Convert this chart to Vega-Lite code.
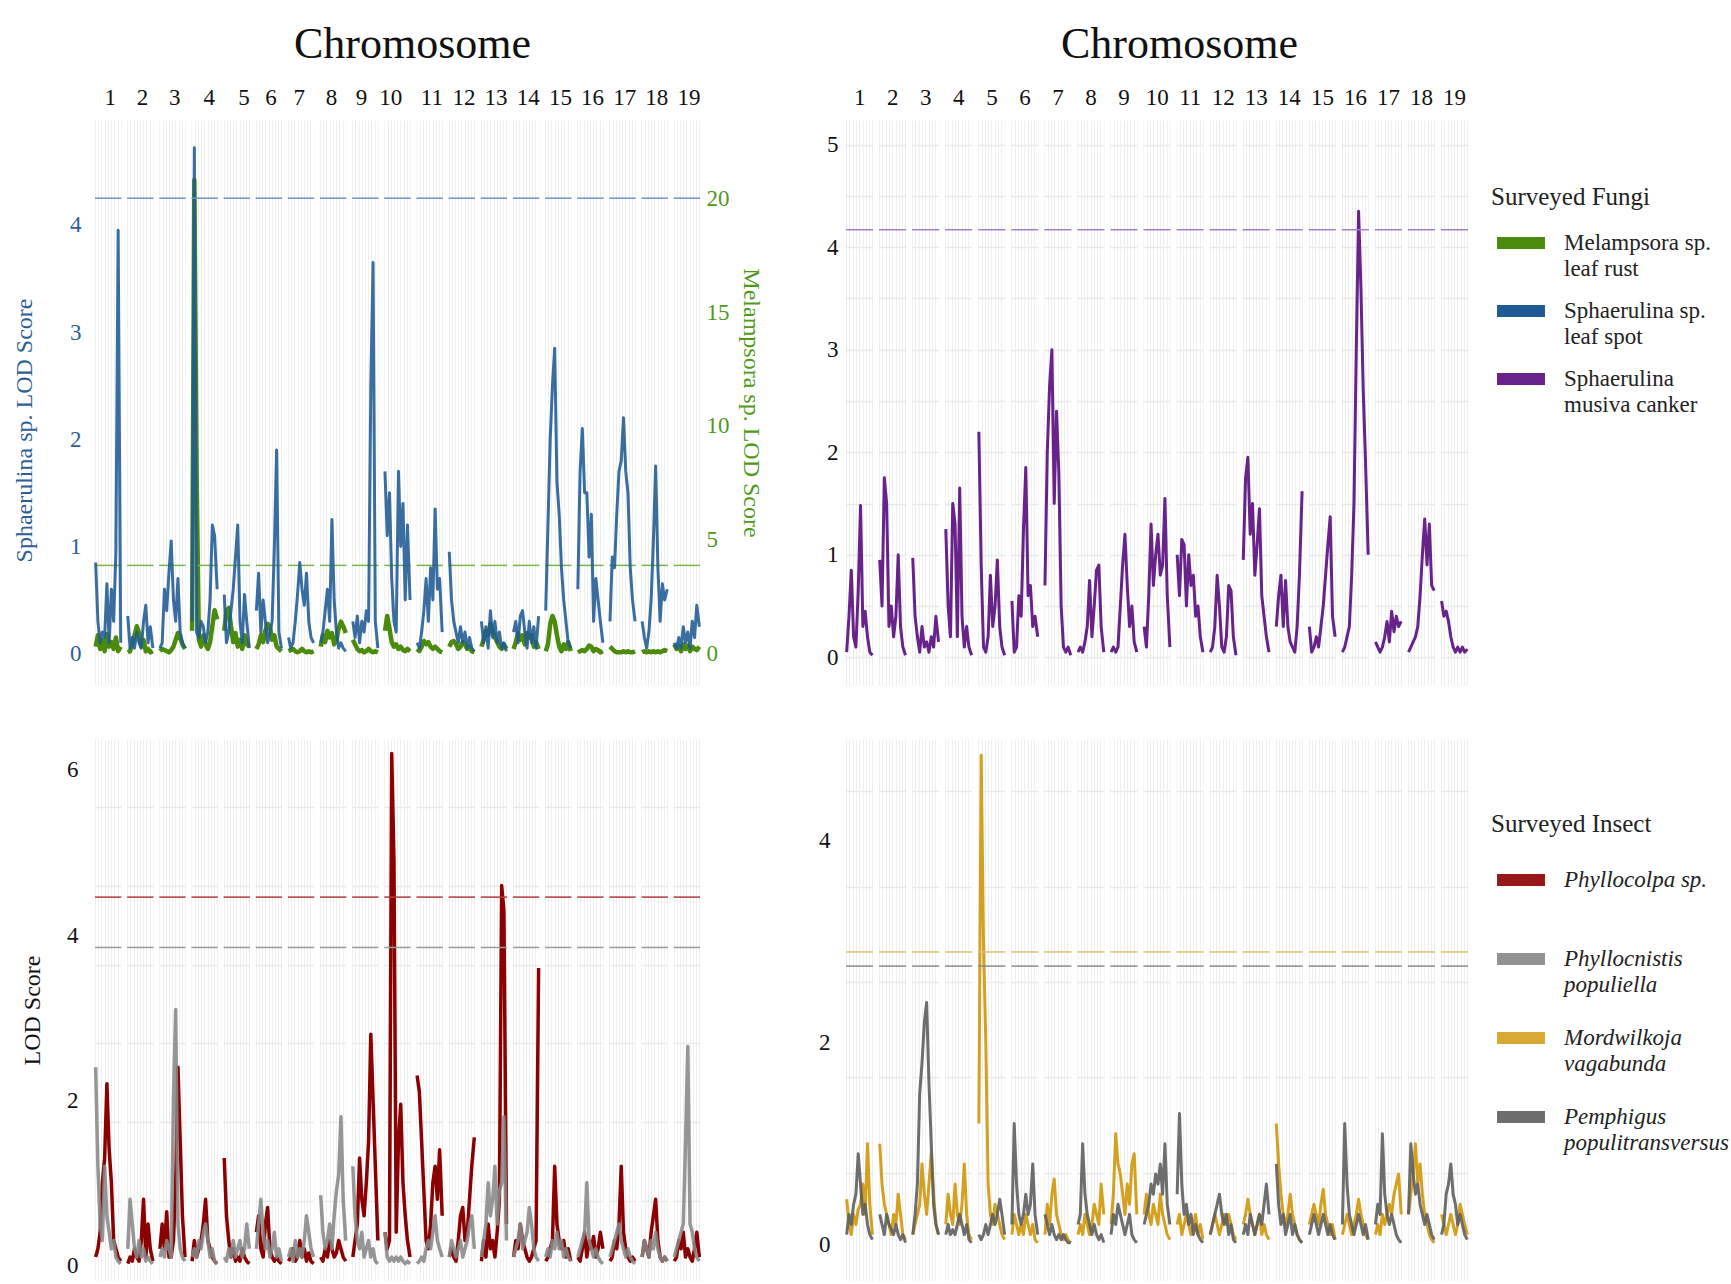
{
"$schema": "https://vega.github.io/schema/vega-lite/v6.json",
"background": "white",
"padding": {"left": 12, "top": 22, "right": 0, "bottom": 0},
"bounds": "flush",
"columns": 2,
"spacing": {"row": 54, "column": 146},
"resolve": {"scale": {"x": "independent", "y": "independent", "color": "independent"}, "legend": {"color": "independent"}},
"datasets": {
"chroms": [
{"c":1,"b":0,"e":0.82,"n":1,"xs":[0.02,0.09,0.16,0.23,0.3,0.37,0.44,0.51,0.58,0.65,0.72,0.8]},
{"c":2,"b":1,"e":1.82,"n":2,"xs":[1.02,1.09,1.16,1.23,1.3,1.37,1.44,1.51,1.58,1.65,1.72,1.8]},
{"c":3,"b":2,"e":2.82,"n":3,"xs":[2.02,2.09,2.16,2.23,2.3,2.37,2.44,2.51,2.58,2.65,2.72,2.8]},
{"c":4,"b":3,"e":3.82,"n":4,"xs":[3.02,3.09,3.16,3.23,3.3,3.37,3.44,3.51,3.58,3.65,3.72,3.8]},
{"c":5,"b":4,"e":4.82,"n":5,"xs":[4.02,4.09,4.16,4.23,4.3,4.37,4.44,4.51,4.58,4.65,4.72,4.8]},
{"c":6,"b":5,"e":5.82,"n":6,"xs":[5.02,5.09,5.16,5.23,5.3,5.37,5.44,5.51,5.58,5.65,5.72,5.8]},
{"c":7,"b":6,"e":6.82,"n":7,"xs":[6.02,6.09,6.16,6.23,6.3,6.37,6.44,6.51,6.58,6.65,6.72,6.8]},
{"c":8,"b":7,"e":7.82,"n":8,"xs":[7.02,7.09,7.16,7.23,7.3,7.37,7.44,7.51,7.58,7.65,7.72,7.8]},
{"c":9,"b":8,"e":8.82,"n":9,"xs":[8.02,8.09,8.16,8.23,8.3,8.37,8.44,8.51,8.58,8.65,8.72,8.8]},
{"c":10,"b":9,"e":9.82,"n":10,"xs":[9.02,9.09,9.16,9.23,9.3,9.37,9.44,9.51,9.58,9.65,9.72,9.8]},
{"c":11,"b":10,"e":10.82,"n":11,"xs":[10.02,10.09,10.16,10.23,10.3,10.37,10.44,10.51,10.58,10.65,10.72,10.8]},
{"c":12,"b":11,"e":11.82,"n":12,"xs":[11.02,11.09,11.16,11.23,11.3,11.37,11.44,11.51,11.58,11.65,11.72,11.8]},
{"c":13,"b":12,"e":12.82,"n":13,"xs":[12.02,12.09,12.16,12.23,12.3,12.37,12.44,12.51,12.58,12.65,12.72,12.8]},
{"c":14,"b":13,"e":13.82,"n":14,"xs":[13.02,13.09,13.16,13.23,13.3,13.37,13.44,13.51,13.58,13.65,13.72,13.8]},
{"c":15,"b":14,"e":14.82,"n":15,"xs":[14.02,14.09,14.16,14.23,14.3,14.37,14.44,14.51,14.58,14.65,14.72,14.8]},
{"c":16,"b":15,"e":15.82,"n":16,"xs":[15.02,15.09,15.16,15.23,15.3,15.37,15.44,15.51,15.58,15.65,15.72,15.8]},
{"c":17,"b":16,"e":16.82,"n":17,"xs":[16.02,16.09,16.16,16.23,16.3,16.37,16.44,16.51,16.58,16.65,16.72,16.8]},
{"c":18,"b":17,"e":17.82,"n":18,"xs":[17.02,17.09,17.16,17.23,17.3,17.37,17.44,17.51,17.58,17.65,17.72,17.8]},
{"c":19,"b":18,"e":18.82,"n":19,"xs":[18.02,18.09,18.16,18.23,18.3,18.37,18.44,18.51,18.58,18.65,18.72,18.8]}
],
"lod": [
{"s":"sph","c":1,"y":[0.85,0.3,0.1,0.2,0.15,0.65,0.1,0.6,0.3,0.95,3.95,0.1]},
{"s":"sph","c":2,"y":[0.35,0.05,0.15,0.05,0.2,0.1,0.05,0.3,0.45,0.1,0.25,0.05]},
{"s":"sph","c":3,"y":[0.05,0.1,0.6,0.4,0.75,1.05,0.5,0.3,0.7,0.2,0.1,0.05]},
{"s":"sph","c":4,"y":[0.3,4.72,0.2,0.15,0.3,0.25,0.1,0.2,0.5,1.2,1.1,0.6]},
{"s":"sph","c":5,"y":[0.55,0.1,0.2,0.4,0.6,0.9,1.2,0.3,0.1,0.55,0.3,0.05]},
{"s":"sph","c":6,"y":[0.4,0.75,0.2,0.5,0.3,0.1,0.2,0.3,1.0,1.9,0.2,0.05]},
{"s":"sph","c":7,"y":[0.15,0.05,0.1,0.3,0.55,0.85,0.6,0.45,0.75,0.3,0.15,0.1]},
{"s":"sph","c":8,"y":[0.1,0.2,0.4,0.6,0.3,1.25,0.5,0.2,0.05,0.1,0.05,0.02]},
{"s":"sph","c":9,"y":[0.3,0.15,0.35,0.1,0.3,0.2,0.4,0.3,2.5,3.65,0.3,0.05]},
{"s":"sph","c":10,"y":[1.7,1.1,1.5,0.7,0.3,0.2,1.7,1.0,1.4,0.5,1.2,0.5]},
{"s":"sph","c":11,"y":[0.1,0.05,0.2,0.4,0.7,0.3,0.8,0.5,1.35,0.6,0.7,0.2]},
{"s":"sph","c":12,"y":[0.95,0.5,0.3,0.2,0.1,0.25,0.1,0.2,0.05,0.15,0.05,0.02]},
{"s":"sph","c":13,"y":[0.3,0.1,0.25,0.05,0.4,0.15,0.3,0.1,0.2,0.05,0.1,0.02]},
{"s":"sph","c":14,"y":[0.2,0.3,0.1,0.35,0.4,0.2,0.05,0.3,0.1,0.25,0.05,0.35]},
{"s":"sph","c":15,"y":[0.4,1.2,2.0,2.5,2.85,1.6,1.3,0.8,0.5,0.3,0.1,0.05]},
{"s":"sph","c":16,"y":[0.6,1.7,2.1,1.5,1.5,0.9,1.3,0.3,0.7,0.5,0.3,0.1]},
{"s":"sph","c":17,"y":[0.3,0.9,0.8,1.3,1.7,1.8,2.2,1.7,1.5,0.8,0.5,0.3]},
{"s":"sph","c":18,"y":[0.3,0.15,0.05,0.2,0.5,1.05,1.75,0.8,0.3,0.65,0.5,0.6]},
{"s":"sph","c":19,"y":[0.1,0.05,0.15,0.05,0.25,0.1,0.2,0.05,0.3,0.15,0.45,0.25]},
{"s":"mel","c":1,"y":[0.3,0.8,0.2,0.6,0.1,0.85,0.3,0.5,0.2,0.7,0.1,0.3]},
{"s":"mel","c":2,"y":[0.05,0.1,0.4,0.8,1.2,0.9,0.3,0.6,0.1,0.2,0.05,0.1]},
{"s":"mel","c":3,"y":[0.1,0.2,0.15,0.1,0.05,0.15,0.3,0.6,0.9,0.7,0.4,0.2]},
{"s":"mel","c":4,"y":[1.0,20.8,8.0,0.6,0.3,0.8,0.4,0.2,0.5,1.2,1.9,1.5]},
{"s":"mel","c":5,"y":[1.0,1.9,2.0,1.2,0.5,0.9,0.3,0.6,0.2,0.8,0.4,0.3]},
{"s":"mel","c":6,"y":[0.2,0.4,0.8,0.5,1.0,1.3,1.2,0.6,0.8,0.3,0.2,0.1]},
{"s":"mel","c":7,"y":[0.1,0.15,0.2,0.1,0.05,0.1,0.2,0.1,0.05,0.1,0.05,0.1]},
{"s":"mel","c":8,"y":[0.3,0.8,0.5,1.0,0.7,0.9,0.4,0.6,1.1,1.4,1.2,0.9]},
{"s":"mel","c":9,"y":[0.6,0.4,0.2,0.1,0.15,0.05,0.1,0.2,0.1,0.05,0.1,0.05]},
{"s":"mel","c":10,"y":[1.0,1.65,1.1,0.5,0.3,0.4,0.2,0.3,0.15,0.1,0.2,0.1]},
{"s":"mel","c":11,"y":[0.2,0.1,0.3,0.55,0.4,0.5,0.3,0.2,0.3,0.2,0.1,0.05]},
{"s":"mel","c":12,"y":[0.3,0.5,0.55,0.4,0.2,0.3,0.5,0.4,0.2,0.3,0.1,0.05]},
{"s":"mel","c":13,"y":[0.3,0.6,1.0,0.8,1.3,1.0,0.7,0.5,0.3,0.2,0.4,0.2]},
{"s":"mel","c":14,"y":[0.2,0.5,0.9,0.6,0.8,0.4,0.9,0.7,0.8,0.3,0.5,0.2]},
{"s":"mel","c":15,"y":[0.1,0.4,1.3,1.65,1.4,0.8,0.3,0.1,0.4,0.2,0.5,0.1]},
{"s":"mel","c":16,"y":[0.05,0.1,0.15,0.1,0.2,0.35,0.3,0.1,0.2,0.15,0.05,0.1]},
{"s":"mel","c":17,"y":[0.3,0.2,0.1,0.05,0.05,0.05,0.1,0.05,0.1,0.05,0.05,0.1]},
{"s":"mel","c":18,"y":[0.05,0.1,0.05,0.1,0.05,0.1,0.05,0.1,0.05,0.1,0.15,0.1]},
{"s":"mel","c":19,"y":[0.4,0.2,0.3,0.1,0.4,0.2,0.35,0.1,0.3,0.2,0.15,0.3]},
{"s":"mus","c":1,"y":[0.05,0.4,0.85,0.2,0.1,0.65,1.48,0.3,0.45,0.2,0.05,0.02]},
{"s":"mus","c":2,"y":[0.95,0.5,1.75,1.5,0.3,0.5,0.2,0.4,1.0,0.3,0.1,0.02]},
{"s":"mus","c":3,"y":[0.97,0.4,0.2,0.05,0.3,0.1,0.15,0.05,0.2,0.1,0.4,0.15]},
{"s":"mus","c":4,"y":[1.25,0.5,0.2,1.5,1.3,0.2,1.65,0.4,0.1,0.3,0.1,0.02]},
{"s":"mus","c":5,"y":[2.2,0.9,0.1,0.05,0.2,0.8,0.3,0.5,0.95,0.3,0.1,0.02]},
{"s":"mus","c":6,"y":[0.55,0.05,0.1,0.6,0.4,1.25,1.85,0.6,0.7,0.3,0.4,0.2]},
{"s":"mus","c":7,"y":[0.7,2.0,2.65,3.0,1.5,2.4,1.8,0.5,0.1,0.05,0.1,0.02]},
{"s":"mus","c":8,"y":[0.05,0.1,0.05,0.15,0.3,0.75,0.2,0.5,0.85,0.9,0.3,0.05]},
{"s":"mus","c":9,"y":[0.05,0.1,0.05,0.1,0.5,0.9,1.2,0.7,0.3,0.5,0.15,0.05]},
{"s":"mus","c":10,"y":[0.3,0.1,0.6,1.3,0.7,1.0,1.2,0.8,0.9,1.55,0.6,0.1]},
{"s":"mus","c":11,"y":[1.0,0.6,1.15,1.1,0.5,1.0,0.7,0.8,0.4,0.5,0.2,0.05]},
{"s":"mus","c":12,"y":[0.05,0.1,0.3,0.8,0.5,0.1,0.05,0.2,0.7,0.65,0.2,0.02]},
{"s":"mus","c":13,"y":[0.95,1.75,1.95,1.2,1.5,0.8,1.1,1.45,0.6,0.4,0.2,0.05]},
{"s":"mus","c":14,"y":[0.3,0.6,0.8,0.3,0.75,0.3,0.15,0.1,0.05,0.3,0.8,1.62]},
{"s":"mus","c":15,"y":[0.3,0.05,0.1,0.2,0.1,0.3,0.5,0.8,1.1,1.37,0.4,0.2]},
{"s":"mus","c":16,"y":[0.05,0.1,0.2,0.3,0.8,1.5,3.0,4.35,3.6,2.6,1.9,1.0]},
{"s":"mus","c":17,"y":[0.15,0.1,0.05,0.1,0.2,0.35,0.15,0.45,0.25,0.4,0.3,0.35]},
{"s":"mus","c":18,"y":[0.05,0.1,0.15,0.2,0.3,0.6,1.0,1.35,0.9,1.3,0.7,0.65]},
{"s":"mus","c":19,"y":[0.55,0.4,0.45,0.35,0.2,0.1,0.05,0.1,0.05,0.1,0.05,0.08]},
{"s":"pco","c":1,"y":[0.1,0.2,0.4,1.0,1.3,2.2,1.4,1.0,0.3,0.2,0.1,0.05]},
{"s":"pco","c":2,"y":[0.02,0.1,0.05,0.2,0.1,0.05,0.3,0.8,0.1,0.5,0.2,0.05]},
{"s":"pco","c":3,"y":[0.2,0.5,0.2,0.65,0.1,0.1,0.3,1.0,2.4,1.5,0.6,0.1]},
{"s":"pco","c":4,"y":[0.05,0.3,0.1,0.2,0.3,0.5,0.8,0.3,0.2,0.1,0.05,0.02]},
{"s":"pco","c":5,"y":[1.3,0.6,0.3,0.1,0.2,0.05,0.1,0.05,0.2,0.1,0.05,0.02]},
{"s":"pco","c":6,"y":[0.4,0.6,0.2,0.1,0.5,0.7,0.2,0.1,0.05,0.1,0.05,0.02]},
{"s":"pco","c":7,"y":[0.05,0.1,0.2,0.05,0.1,0.3,0.1,0.2,0.05,0.15,0.05,0.02]},
{"s":"pco","c":8,"y":[0.1,0.05,0.2,0.1,0.3,0.2,0.1,0.15,0.3,0.2,0.1,0.05]},
{"s":"pco","c":9,"y":[0.1,0.3,0.5,1.3,0.8,0.6,1.0,1.5,2.8,2.0,1.2,0.3]},
{"s":"pco","c":10,"y":[0.4,0.2,0.3,6.2,4.9,0.4,1.5,1.95,1.0,0.6,0.3,0.1]},
{"s":"pco","c":11,"y":[2.3,2.1,1.5,0.9,0.3,0.2,0.5,1.0,1.2,0.8,1.4,0.6]},
{"s":"pco","c":12,"y":[0.1,0.2,0.1,0.05,0.3,0.6,0.7,0.3,0.4,0.8,1.2,1.55]},
{"s":"pco","c":13,"y":[0.05,0.3,0.1,0.5,0.2,0.3,0.1,0.4,0.8,4.6,4.3,0.5]},
{"s":"pco","c":14,"y":[0.1,0.3,0.2,0.5,0.3,0.2,0.1,0.05,0.1,0.2,0.3,3.6]},
{"s":"pco","c":15,"y":[0.05,0.1,0.2,0.3,1.2,0.5,0.3,0.2,0.3,0.1,0.2,0.05]},
{"s":"pco","c":16,"y":[0.1,0.05,0.2,0.4,0.1,0.3,0.2,0.35,0.1,0.2,0.4,0.2]},
{"s":"pco","c":17,"y":[0.05,0.1,0.3,0.2,0.5,1.2,0.4,0.2,0.1,0.05,0.1,0.05]},
{"s":"pco","c":18,"y":[0.1,0.3,0.2,0.1,0.4,0.6,0.8,0.3,0.1,0.05,0.1,0.05]},
{"s":"pco","c":19,"y":[0.05,0.1,0.3,0.2,0.4,0.1,0.2,0.1,0.05,0.2,0.4,0.1]},
{"s":"pcn","c":1,"y":[2.4,1.2,0.5,0.3,1.2,0.6,0.4,0.2,0.3,0.1,0.05,0.02]},
{"s":"pcn","c":2,"y":[0.2,0.8,0.5,0.2,0.1,0.3,0.1,0.2,0.05,0.1,0.05,0.02]},
{"s":"pcn","c":3,"y":[0.1,0.2,0.1,0.3,0.2,0.1,2.0,3.1,0.5,0.2,0.1,0.05]},
{"s":"pcn","c":4,"y":[0.1,0.2,0.1,0.3,0.2,0.4,0.5,0.3,0.1,0.2,0.05,0.02]},
{"s":"pcn","c":5,"y":[0.1,0.05,0.2,0.1,0.3,0.1,0.2,0.3,0.1,0.2,0.5,0.2]},
{"s":"pcn","c":6,"y":[0.2,0.5,0.8,0.4,0.2,0.3,0.1,0.2,0.4,0.1,0.2,0.05]},
{"s":"pcn","c":7,"y":[0.1,0.2,0.05,0.3,0.1,0.2,0.1,0.3,0.6,0.4,0.2,0.1]},
{"s":"pcn","c":8,"y":[0.85,0.4,0.2,0.3,0.5,0.2,0.6,0.9,1.1,1.8,0.8,0.3]},
{"s":"pcn","c":9,"y":[1.2,0.6,0.3,0.2,0.4,0.1,0.2,0.3,0.1,0.2,0.05,0.02]},
{"s":"pcn","c":10,"y":[0.4,0.1,0.05,0.1,0.05,0.1,0.05,0.1,0.05,0.02,0.05,0.02]},
{"s":"pcn","c":11,"y":[0.02,0.05,0.1,0.05,0.2,0.3,0.2,0.4,0.6,0.3,0.2,0.1]},
{"s":"pcn","c":12,"y":[0.1,0.3,0.2,0.1,0.2,0.3,0.1,0.2,0.3,0.5,0.6,0.2]},
{"s":"pcn","c":13,"y":[0.1,0.3,0.5,1.0,0.6,0.8,1.2,0.5,0.9,1.0,1.8,0.3]},
{"s":"pcn","c":14,"y":[0.1,0.2,0.3,0.5,0.2,0.3,0.4,0.7,0.5,0.2,0.1,0.05]},
{"s":"pcn","c":15,"y":[0.1,0.2,0.1,0.3,0.2,0.4,0.2,0.3,0.1,0.2,0.1,0.05]},
{"s":"pcn","c":16,"y":[0.1,0.2,0.3,0.4,1.0,0.3,0.2,0.1,0.2,0.1,0.05,0.02]},
{"s":"pcn","c":17,"y":[0.1,0.2,0.3,0.4,0.5,0.3,0.2,0.1,0.2,0.1,0.05,0.02]},
{"s":"pcn","c":18,"y":[0.1,0.3,0.2,0.1,0.3,0.2,0.4,0.2,0.1,0.05,0.1,0.05]},
{"s":"pcn","c":19,"y":[0.1,0.2,0.3,0.4,0.5,1.5,2.65,0.5,0.4,0.2,0.1,0.05]},
{"s":"mor","c":1,"y":[0.45,0.2,0.1,0.3,0.2,0.35,0.4,0.6,0.3,1.0,0.4,0.1]},
{"s":"mor","c":2,"y":[1.0,0.6,0.4,0.3,0.2,0.1,0.3,0.2,0.5,0.3,0.1,0.05]},
{"s":"mor","c":3,"y":[0.1,0.2,0.3,0.4,0.8,0.5,0.3,0.6,0.9,0.5,0.2,0.1]},
{"s":"mor","c":4,"y":[0.2,0.5,0.3,0.2,0.6,0.3,0.2,0.4,0.8,0.3,0.1,0.05]},
{"s":"mor","c":5,"y":[1.2,4.85,3.0,2.0,0.6,0.3,0.2,0.4,0.3,0.2,0.1,0.05]},
{"s":"mor","c":6,"y":[0.1,0.3,0.2,0.1,0.2,0.1,0.3,0.2,0.1,0.2,0.05,0.02]},
{"s":"mor","c":7,"y":[0.1,0.4,0.2,0.5,0.65,0.3,0.2,0.1,0.05,0.1,0.05,0.02]},
{"s":"mor","c":8,"y":[0.1,0.2,0.1,0.3,0.2,0.1,0.2,0.4,0.3,0.2,0.6,0.3]},
{"s":"mor","c":9,"y":[0.2,0.5,1.1,0.8,0.7,0.5,0.3,0.6,0.4,0.8,0.9,0.3]},
{"s":"mor","c":10,"y":[0.3,0.5,0.3,0.2,0.4,0.3,0.2,0.5,0.3,0.2,0.1,0.05]},
{"s":"mor","c":11,"y":[0.2,0.3,0.1,0.2,0.3,0.2,0.1,0.2,0.3,0.1,0.2,0.05]},
{"s":"mor","c":12,"y":[0.1,0.2,0.3,0.2,0.1,0.2,0.3,0.2,0.3,0.2,0.1,0.05]},
{"s":"mor","c":13,"y":[0.2,0.3,0.45,0.3,0.2,0.1,0.2,0.3,0.1,0.2,0.1,0.05]},
{"s":"mor","c":14,"y":[1.2,0.8,0.5,0.3,0.2,0.3,0.5,0.3,0.2,0.1,0.05,0.02]},
{"s":"mor","c":15,"y":[0.2,0.3,0.4,0.3,0.2,0.4,0.55,0.3,0.2,0.1,0.2,0.05]},
{"s":"mor","c":16,"y":[0.1,0.2,0.3,0.2,0.1,0.2,0.3,0.45,0.3,0.2,0.1,0.05]},
{"s":"mor","c":17,"y":[0.1,0.2,0.1,0.3,0.2,0.3,0.4,0.3,0.5,0.6,0.7,0.3]},
{"s":"mor","c":18,"y":[0.3,0.5,0.7,1.0,0.6,0.8,0.5,0.3,0.2,0.1,0.05,0.02]},
{"s":"mor","c":19,"y":[0.3,0.2,0.1,0.2,0.3,0.2,0.1,0.2,0.4,0.3,0.2,0.1]},
{"s":"pem","c":1,"y":[0.1,0.3,0.2,0.4,0.5,0.9,0.6,0.3,0.4,0.2,0.1,0.05]},
{"s":"pem","c":2,"y":[0.3,0.2,0.1,0.3,0.2,0.15,0.1,0.2,0.1,0.05,0.1,0.02]},
{"s":"pem","c":3,"y":[0.1,0.3,0.6,1.5,1.8,2.2,2.4,1.6,1.0,0.4,0.2,0.1]},
{"s":"pem","c":4,"y":[0.1,0.2,0.1,0.15,0.1,0.2,0.3,0.2,0.1,0.2,0.05,0.02]},
{"s":"pem","c":5,"y":[0.1,0.05,0.1,0.2,0.1,0.2,0.3,0.2,0.3,0.45,0.3,0.1]},
{"s":"pem","c":6,"y":[0.2,1.2,0.6,0.3,0.2,0.3,0.5,0.3,0.4,0.8,0.3,0.1]},
{"s":"pem","c":7,"y":[0.3,0.2,0.1,0.2,0.1,0.05,0.1,0.05,0.1,0.05,0.02,0.02]},
{"s":"pem","c":8,"y":[0.2,0.3,1.0,0.5,0.3,0.2,0.1,0.2,0.1,0.05,0.1,0.02]},
{"s":"pem","c":9,"y":[0.1,0.3,0.2,0.4,0.3,0.2,0.1,0.2,0.3,0.1,0.05,0.02]},
{"s":"pem","c":10,"y":[0.2,0.3,0.4,0.6,0.5,0.7,0.6,0.8,0.5,1.0,0.4,0.2]},
{"s":"pem","c":11,"y":[0.5,1.3,0.6,0.3,0.4,0.2,0.3,0.1,0.2,0.1,0.05,0.02]},
{"s":"pem","c":12,"y":[0.1,0.2,0.3,0.4,0.5,0.3,0.2,0.3,0.1,0.2,0.05,0.02]},
{"s":"pem","c":13,"y":[0.1,0.2,0.1,0.3,0.2,0.1,0.2,0.3,0.2,0.4,0.6,0.3]},
{"s":"pem","c":14,"y":[0.8,0.4,0.2,0.3,0.1,0.2,0.3,0.1,0.2,0.1,0.05,0.02]},
{"s":"pem","c":15,"y":[0.1,0.2,0.3,0.2,0.1,0.2,0.3,0.2,0.1,0.2,0.1,0.05]},
{"s":"pem","c":16,"y":[0.2,1.2,0.6,0.3,0.2,0.1,0.2,0.3,0.2,0.1,0.2,0.05]},
{"s":"pem","c":17,"y":[0.2,0.4,0.3,1.1,0.5,0.3,0.2,0.3,0.2,0.1,0.05,0.02]},
{"s":"pem","c":18,"y":[0.3,1.0,0.7,0.5,0.6,0.4,0.3,0.2,0.3,0.2,0.1,0.05]},
{"s":"pem","c":19,"y":[0.1,0.2,0.5,0.6,0.8,0.5,0.4,0.2,0.3,0.2,0.1,0.05]}
]
},
"concat": [
{
"width": 605, "height": 565,
"layer": [
{"data": {"name": "chroms"}, "mark": {"type": "rect", "fill": "white", "clip": true},
 "encoding": {"x": {"field": "e", "type": "quantitative", "scale": {"domain": [0, 18.82], "nice": false, "zero": false}, "axis": {"orient": "top", "title": "Chromosome", "titleX": 317, "labelOffset": {"condition": [{"test": "datum.value > 3 && datum.value < 3.5", "value": 4.5}, {"test": "datum.value > 4 && datum.value < 4.5", "value": 7}, {"test": "datum.value > 8 && datum.value < 8.5", "value": -4}, {"test": "datum.value > 9 && datum.value < 9.5", "value": -7}, {"test": "datum.value > 6 && datum.value < 7.5", "value": -2}], "value": 2}}}, "x2": {"field": "n"}}},
{"layer": [
 {"data": {"name": "lod"},
  "transform": [{"filter": "datum.s == 'mel'"}, {"lookup": "c", "from": {"data": {"name": "chroms"}, "key": "c", "fields": ["xs"]}}, {"flatten": ["xs", "y"]}],
  "mark": {"type": "line", "stroke": "#4b8b0b", "strokeWidth": 4.5, "strokeJoin": "round"},
  "encoding": {
   "x": {"field": "xs", "type": "quantitative", "scale": {"domain": [0, 18.82], "nice": false, "zero": false}, "axis": {"orient": "top", "title": "Chromosome", "titleX": 317, "labelOffset": {"condition": [{"test": "datum.value > 3 && datum.value < 3.5", "value": 4.5}, {"test": "datum.value > 4 && datum.value < 4.5", "value": 7}, {"test": "datum.value > 8 && datum.value < 8.5", "value": -4}, {"test": "datum.value > 9 && datum.value < 9.5", "value": -7}, {"test": "datum.value > 6 && datum.value < 7.5", "value": -2}], "value": 2}}},
   "y": {"field": "y", "type": "quantitative", "scale": {"domain": [-1.385, 23.44], "nice": false, "zero": false}, "axis": {"orient": "right", "values": [0, 5, 10, 15, 20], "grid": false, "labelColor": "#4f9a1a", "title": "Melampsora sp. LOD Score", "titleColor": "#4f9a1a", "labelPadding": 6, "titlePadding": 9}},
   "detail": {"field": "c"}}},
 {"data": {"name": "chroms"}, "mark": {"type": "rule", "stroke": "#7db34a", "strokeWidth": 1.5},
  "encoding": {
   "x": {"field": "b", "type": "quantitative", "scale": {"domain": [0, 18.82], "nice": false, "zero": false}, "axis": {"orient": "top", "title": "Chromosome", "titleX": 317, "labelOffset": {"condition": [{"test": "datum.value > 3 && datum.value < 3.5", "value": 4.5}, {"test": "datum.value > 4 && datum.value < 4.5", "value": 7}, {"test": "datum.value > 8 && datum.value < 8.5", "value": -4}, {"test": "datum.value > 9 && datum.value < 9.5", "value": -7}, {"test": "datum.value > 6 && datum.value < 7.5", "value": -2}], "value": 2}}},
   "x2": {"field": "e"},
   "y": {"datum": 3.87, "type": "quantitative"}}}
]},
{"layer": [
 {"data": {"name": "lod"},
  "transform": [{"filter": "datum.s == 'sph'"}, {"lookup": "c", "from": {"data": {"name": "chroms"}, "key": "c", "fields": ["xs"]}}, {"flatten": ["xs", "y"]}],
  "mark": {"type": "line", "stroke": "#1f5a94", "strokeWidth": 3, "strokeJoin": "round", "opacity": 0.88},
  "encoding": {
   "x": {"field": "xs", "type": "quantitative", "scale": {"domain": [0, 18.82], "nice": false, "zero": false}, "axis": {"orient": "top", "title": "Chromosome", "titleX": 317, "labelOffset": {"condition": [{"test": "datum.value > 3 && datum.value < 3.5", "value": 4.5}, {"test": "datum.value > 4 && datum.value < 4.5", "value": 7}, {"test": "datum.value > 8 && datum.value < 8.5", "value": -4}, {"test": "datum.value > 9 && datum.value < 9.5", "value": -7}, {"test": "datum.value > 6 && datum.value < 7.5", "value": -2}], "value": 2}}},
   "y": {"field": "y", "type": "quantitative", "scale": {"domain": [-0.294, 4.98], "nice": false, "zero": false}, "axis": {"orient": "left", "values": [0, 0.5, 1, 1.5, 2, 2.5, 3, 3.5, 4, 4.5], "labelExpr": "datum.value % 1 == 0 ? '' + datum.value : ''", "labelColor": "#2d5f96", "title": "Sphaerulina sp. LOD Score", "titleColor": "#2d5f96", "titleY": 310, "labelPadding": 14, "titlePadding": 33}},
   "detail": {"field": "c"}}},
 {"data": {"name": "chroms"}, "mark": {"type": "rule", "stroke": "#6f94c4", "strokeWidth": 1.5},
  "encoding": {
   "x": {"field": "b", "type": "quantitative", "scale": {"domain": [0, 18.82], "nice": false, "zero": false}, "axis": {"orient": "top", "title": "Chromosome", "titleX": 317, "labelOffset": {"condition": [{"test": "datum.value > 3 && datum.value < 3.5", "value": 4.5}, {"test": "datum.value > 4 && datum.value < 4.5", "value": 7}, {"test": "datum.value > 8 && datum.value < 8.5", "value": -4}, {"test": "datum.value > 9 && datum.value < 9.5", "value": -7}, {"test": "datum.value > 6 && datum.value < 7.5", "value": -2}], "value": 2}}},
   "x2": {"field": "e"},
   "y": {"datum": 4.25, "type": "quantitative"}}}
]}
],
"resolve": {"scale": {"y": "independent"}, "axis": {"y": "independent"}}
},
{
"width": 622, "height": 565,
"layer": [
{"data": {"name": "chroms"}, "mark": {"type": "rect", "fill": "white", "clip": true},
 "encoding": {"x": {"field": "e", "type": "quantitative", "scale": {"domain": [0, 18.82], "nice": false, "zero": false}, "axis": {"orient": "top", "title": "Chromosome", "titleX": 333}}, "x2": {"field": "n"}}},
{"data": {"name": "lod"},
 "transform": [{"filter": "datum.s == 'mus'"}, {"lookup": "c", "from": {"data": {"name": "chroms"}, "key": "c", "fields": ["xs"]}}, {"flatten": ["xs", "y"]}],
 "mark": {"type": "line", "strokeWidth": 3, "strokeJoin": "round"},
 "encoding": {
  "x": {"field": "xs", "type": "quantitative", "scale": {"domain": [0, 18.82], "nice": false, "zero": false}, "axis": {"orient": "top", "title": "Chromosome", "titleX": 333}},
  "y": {"field": "y", "type": "quantitative", "scale": {"domain": [-0.27, 5.24], "nice": false, "zero": false}, "axis": {"values": [0, 0.5, 1, 1.5, 2, 2.5, 3, 3.5, 4, 4.5, 5], "labelExpr": "datum.value % 1 == 0 ? '' + datum.value : ''", "title": null, "labelPadding": 8}},
  "color": {"field": "s", "type": "nominal", "scale": {"domain": ["mel", "sph", "mus"], "range": ["#4b8b0b", "#1f5a94", "#67238a"]},
   "legend": {"orient": "none", "legendX": 645, "legendY": 65, "title": "Surveyed Fungi", "titlePadding": 3, "rowPadding": -14, "symbolType": "stroke", "symbolSize": 2300, "symbolStrokeWidth": 12, "labelOffset": 13,
    "labelExpr": "datum.value == 'mel' ? ['Melampsora sp.', 'leaf rust'] : datum.value == 'sph' ? ['Sphaerulina sp.', 'leaf spot'] : ['Sphaerulina', 'musiva canker']"}},
  "detail": {"field": "c"}}},
{"data": {"name": "chroms"}, "mark": {"type": "rule", "stroke": "#a47fc6", "strokeWidth": 1.5},
 "encoding": {
  "x": {"field": "b", "type": "quantitative", "scale": {"domain": [0, 18.82], "nice": false, "zero": false}, "axis": {"orient": "top", "title": "Chromosome", "titleX": 333}},
  "x2": {"field": "e"},
  "y": {"datum": 4.17, "type": "quantitative"}}}
]
},
{
"width": 605, "height": 542,
"layer": [
{"data": {"name": "chroms"}, "mark": {"type": "rect", "fill": "white", "clip": true},
 "encoding": {"x": {"field": "e", "type": "quantitative", "scale": {"domain": [0, 18.82], "nice": false, "zero": false}, "axis": {"labels": false, "title": null}}, "x2": {"field": "n"}}},
{"data": {"name": "lod"},
 "transform": [{"filter": "datum.s == 'pco'"}, {"lookup": "c", "from": {"data": {"name": "chroms"}, "key": "c", "fields": ["xs"]}}, {"flatten": ["xs", "y"]}],
 "mark": {"type": "line", "stroke": "#8b0000", "strokeWidth": 3.5, "strokeJoin": "round"},
 "encoding": {
  "x": {"field": "xs", "type": "quantitative", "scale": {"domain": [0, 18.82], "nice": false, "zero": false}, "axis": {"labels": false, "title": null}},
  "y": {"field": "y", "type": "quantitative", "scale": {"domain": [-0.19, 6.375], "nice": false, "zero": false},
   "axis": {"values": [0, 2, 4, 6, 0.78, 1.74, 2.69, 3.64, 4.6, 5.55], "labelExpr": "indexof([0, 2, 4, 6], datum.value) >= 0 ? '' + datum.value : ''", "gridOpacity": {"condition": {"test": "indexof([0, 2, 4, 6], datum.value) >= 0", "value": 0}, "value": 1}, "title": "LOD Score", "labelPadding": 17, "titlePadding": 22}},
  "detail": {"field": "c"}}},
{"data": {"name": "lod"},
 "transform": [{"filter": "datum.s == 'pcn'"}, {"lookup": "c", "from": {"data": {"name": "chroms"}, "key": "c", "fields": ["xs"]}}, {"flatten": ["xs", "y"]}],
 "mark": {"type": "line", "stroke": "#878787", "strokeWidth": 3.5, "strokeJoin": "round", "opacity": 0.88},
 "encoding": {
  "x": {"field": "xs", "type": "quantitative", "scale": {"domain": [0, 18.82], "nice": false, "zero": false}, "axis": {"labels": false, "title": null}},
  "y": {"field": "y", "type": "quantitative"},
  "detail": {"field": "c"}}},
{"data": {"name": "chroms"}, "mark": {"type": "rule", "stroke": "#b33a3a", "strokeWidth": 1.5},
 "encoding": {
  "x": {"field": "b", "type": "quantitative", "scale": {"domain": [0, 18.82], "nice": false, "zero": false}, "axis": {"labels": false, "title": null}},
  "x2": {"field": "e"},
  "y": {"datum": 4.46, "type": "quantitative"}}},
{"data": {"name": "chroms"}, "mark": {"type": "rule", "stroke": "#9a9a9a", "strokeWidth": 1.5},
 "encoding": {
  "x": {"field": "b", "type": "quantitative", "scale": {"domain": [0, 18.82], "nice": false, "zero": false}, "axis": {"labels": false, "title": null}},
  "x2": {"field": "e"},
  "y": {"datum": 3.85, "type": "quantitative"}}}
]
},
{
"width": 622, "height": 542,
"layer": [
{"data": {"name": "chroms"}, "mark": {"type": "rect", "fill": "white", "clip": true},
 "encoding": {"x": {"field": "e", "type": "quantitative", "scale": {"domain": [0, 18.82], "nice": false, "zero": false}, "axis": {"labels": false, "title": null}}, "x2": {"field": "n"}}},
{"data": {"name": "lod"},
 "transform": [{"filter": "datum.s == 'mor'"}, {"lookup": "c", "from": {"data": {"name": "chroms"}, "key": "c", "fields": ["xs"]}}, {"flatten": ["xs", "y"]}],
 "mark": {"type": "line", "strokeWidth": 3, "strokeJoin": "round"},
 "encoding": {
  "x": {"field": "xs", "type": "quantitative", "scale": {"domain": [0, 18.82], "nice": false, "zero": false}, "axis": {"labels": false, "title": null}},
  "y": {"field": "y", "type": "quantitative", "scale": {"domain": [-0.36, 5.01], "nice": false, "zero": false},
   "axis": {"values": [0, 2, 4, 0.71, 1.66, 2.6, 3.54, 4.49], "labelExpr": "indexof([0, 2, 4], datum.value) >= 0 ? '' + datum.value : ''", "gridOpacity": {"condition": {"test": "indexof([0, 2, 4], datum.value) >= 0", "value": 0}, "value": 1}, "title": null, "labelPadding": 16}},
  "color": {"field": "s", "type": "nominal", "scale": {"domain": ["pco", "pcn", "mor", "pem"], "range": ["#8b0000", "#878787", "#d4a020", "#5e5e5e"]},
   "legend": {"orient": "none", "legendX": 645, "legendY": 73, "title": "Surveyed Insect", "titlePadding": 13, "rowPadding": 11, "symbolType": "stroke", "symbolSize": 2300, "symbolStrokeWidth": 12, "labelOffset": 13, "labelFontStyle": "italic",
    "labelExpr": "datum.value == 'pco' ? ['Phyllocolpa sp.', ''] : datum.value == 'pcn' ? ['Phyllocnistis', 'populiella'] : datum.value == 'mor' ? ['Mordwilkoja', 'vagabunda'] : ['Pemphigus', 'populitransversus']"}},
  "detail": {"field": "c"}}},
{"data": {"name": "lod"},
 "transform": [{"filter": "datum.s == 'pem'"}, {"lookup": "c", "from": {"data": {"name": "chroms"}, "key": "c", "fields": ["xs"]}}, {"flatten": ["xs", "y"]}],
 "mark": {"type": "line", "strokeWidth": 3, "strokeJoin": "round", "opacity": 0.9},
 "encoding": {
  "x": {"field": "xs", "type": "quantitative", "scale": {"domain": [0, 18.82], "nice": false, "zero": false}, "axis": {"labels": false, "title": null}},
  "y": {"field": "y", "type": "quantitative"},
  "color": {"field": "s", "type": "nominal"},
  "detail": {"field": "c"}}},
{"data": {"name": "chroms"}, "mark": {"type": "rule", "stroke": "#e0c070", "strokeWidth": 1.5},
 "encoding": {
  "x": {"field": "b", "type": "quantitative", "scale": {"domain": [0, 18.82], "nice": false, "zero": false}, "axis": {"labels": false, "title": null}},
  "x2": {"field": "e"},
  "y": {"datum": 2.9, "type": "quantitative"}}},
{"data": {"name": "chroms"}, "mark": {"type": "rule", "stroke": "#8c8c8c", "strokeWidth": 1.5},
 "encoding": {
  "x": {"field": "b", "type": "quantitative", "scale": {"domain": [0, 18.82], "nice": false, "zero": false}, "axis": {"labels": false, "title": null}},
  "x2": {"field": "e"},
  "y": {"datum": 2.76, "type": "quantitative"}}}
]
}
],
"config": {
 "view": {"stroke": null},
 "font": "Liberation Serif",
 "axis": {"labelFont": "Liberation Serif", "titleFont": "Liberation Serif", "labelFontSize": 23, "titleFontSize": 24, "titleFontWeight": "normal", "labelColor": "#111111", "titleColor": "#111111", "domain": false, "ticks": false, "tickSize": 0, "gridColor": "#e9e9e9", "gridWidth": 1.5},
 "axisX": {"tickCount": 190, "labelExpr": "round(datum.value * 10) % 10 == 4 ? '' + (floor(datum.value + 0.01) + 1) : ''", "labelOverlap": false, "labelFlush": false, "labelBound": false, "labelPadding": 11, "titleFontSize": 44, "titlePadding": 20, "gridColor": "#efefef", "gridWidth": 1},
 "legend": {"titleFont": "Liberation Serif", "titleFontSize": 25, "titleFontWeight": "normal", "titleColor": "#222222", "labelFont": "Liberation Serif", "labelFontSize": 23, "labelColor": "#222222", "labelLimit": 400, "padding": 0},
 "style": {"guide-label": {"lineHeight": 26}}
}
}
